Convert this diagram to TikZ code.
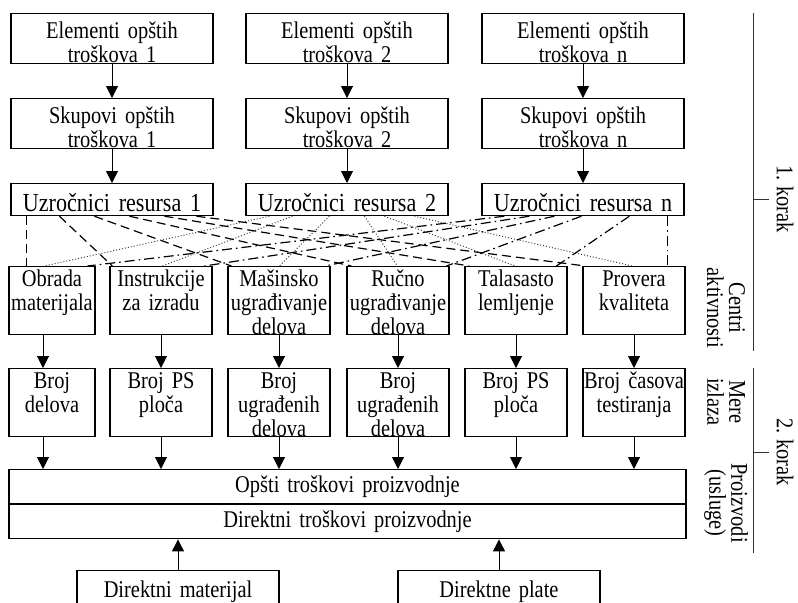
\documentclass[tikz,border=0pt]{standalone}
\usepackage{fontspec}
\setmainfont{Liberation Serif}[FakeStretch=0.85]
\usetikzlibrary{positioning,arrows.meta,calc}
\newcommand{\boxfont}[2]{\fontsize{#1}{#2}\selectfont\spaceskip=0.16em plus 0.02em\relax}

\begin{document}
\begin{tikzpicture}[
    x=0.5pt,y=-0.5pt,
    >={Triangle[length=6pt,width=6pt]},
    arr/.style={->,line width=0.5pt},
    box/.style={rectangle,draw,line width=0.6pt,inner xsep=0pt,inner ysep=0pt,
        align=center,anchor=north,font=\boxfont{12}{12}},
    elbox/.style={box,text width=101pt,text height=12.5pt,text depth=12.5pt},
    uzbox/.style={box,text width=101pt,text height=14pt,text depth=2pt,font=\boxfont{13}{13}},
    actbox/.style={box,text width=51pt,text height=10pt,text depth=24pt},
    sumbox/.style={box,text width=338.5pt,text height=11.5pt,text depth=5.5pt},
    inbox/.style={box,text width=101pt,text height=13.5pt,text depth=6.5pt},
    sidelbl/.style={align=center,rotate=-90,inner sep=0pt,font=\boxfont{12}{11}},
    drvone/.style={line width=0.6pt,dash pattern=on 4.5pt off 2.5pt},
    drvtwo/.style={line width=0.5pt,black!75,dash pattern=on 0.5pt off 1pt},
    drvn/.style={line width=0.6pt,dash pattern=on 5pt off 2pt on 0.8pt off 2pt},
    bracket/.style={line width=0.5pt,black!80},
]
\useasboundingbox (0,0) rectangle (798,602);

% === ELEMENTI / SKUPOVI / UZROCNICI ===
\node[elbox] (el1) at (112,13) {Elementi opštih\\troškova 1};
\node[elbox] (el2) at (347,13) {Elementi opštih\\troškova 2};
\node[elbox] (eln) at (583,13) {Elementi opštih\\troškova n};
\node[elbox] (sk1) at (112,98) {Skupovi opštih\\troškova 1};
\node[elbox] (sk2) at (347,98) {Skupovi opštih\\troškova 2};
\node[elbox] (skn) at (583,98) {Skupovi opštih\\troškova n};
\node[uzbox] (uz1) at (112,183) {Uzročnici resursa 1};
\node[uzbox] (uz2) at (347,183) {Uzročnici resursa 2};
\node[uzbox] (uzn) at (583,183) {Uzročnici resursa n};
\draw[arr] (el1) -- (sk1);
\draw[arr] (el2) -- (sk2);
\draw[arr] (eln) -- (skn);
\draw[arr] (sk1) -- (uz1);
\draw[arr] (sk2) -- (uz2);
\draw[arr] (skn) -- (uzn);

% === CENTRI AKTIVNOSTI ===
\node[actbox,text width=43pt] (obr) at (52,266) {Obrada\\materijala};
\node[actbox] (ins) at (161,266) {Instrukcije\\za izradu};
\node[actbox] (mas) at (279,266) {Mašinsko\\ugrađivanje\\delova};
\node[actbox] (ruc) at (398,266) {Ručno\\ugrađivanje\\delova};
\node[actbox] (tal) at (516,266) {Talasasto\\lemljenje};
\node[actbox] (pro) at (634,266) {Provera\\kvaliteta};

% Uzrocnici -> centri (one line style per resource driver)
\draw[drvone] ([xshift=8pt]uz1.south west) -- ([xshift=9pt]obr.north west);
\draw[drvone] ([xshift=24.5pt]uz1.south west) -- ([xshift=1.5pt]ins.north west);
\draw[drvone] ([xshift=42pt]uz1.south west) -- ([xshift=2pt]mas.north west);
\draw[drvone] ([xshift=59.5pt]uz1.south west) -- ([xshift=2.5pt]ruc.north west);
\draw[drvone] ([xshift=77pt]uz1.south west) -- ([xshift=2.5pt]tal.north west);
\draw[drvone] ([xshift=93pt]uz1.south west) -- ([xshift=1.5pt]pro.north west);

\draw[drvtwo] ([xshift=12pt]uz2.south west) -- ([xshift=18pt]obr.north west);
\draw[drvtwo] ([xshift=23.5pt]uz2.south west) -- ([xshift=26.5pt]ins.north west);
\draw[drvtwo] ([xshift=42pt]uz2.south west) -- ([xshift=26pt]mas.north west);
\draw[drvtwo] ([xshift=59.5pt]uz2.south west) -- ([xshift=25.5pt]ruc.north west);
\draw[drvtwo] ([xshift=69.5pt]uz2.south west) -- ([xshift=25.5pt]tal.north west);
\draw[drvtwo] ([xshift=84.5pt]uz2.south west) -- ([xshift=25pt]pro.north west);

\draw[drvn] ([xshift=11.5pt]uzn.south west) -- ([xshift=39.5pt]obr.north west);
\draw[drvn] ([xshift=24pt]uzn.south west) -- ([xshift=47.5pt]ins.north west);
\draw[drvn] ([xshift=36.5pt]uzn.south west) -- ([xshift=49pt]mas.north west);
\draw[drvn] ([xshift=50pt]uzn.south west) -- ([xshift=50pt]ruc.north west);
\draw[drvn] ([xshift=74pt]uzn.south west) -- ([xshift=46pt]tal.north west);
\draw[drvn] ([xshift=93pt]uzn.south west) -- ([xshift=42.5pt]pro.north west);

% === MERE IZLAZA ===
\node[actbox,text width=43pt] (brd) at (52,368) {Broj\\delova};
\node[actbox] (bps) at (161,368) {Broj PS\\ploča};
\node[actbox] (bug) at (279,368) {Broj\\ugrađenih\\delova};
\node[actbox] (bugr) at (398,368) {Broj\\ugrađenih\\delova};
\node[actbox] (bpl) at (516,368) {Broj PS\\ploča};
\node[actbox] (bcs) at (634,368) {Broj časova\\testiranja};
\draw[arr] ([xshift=-4.5pt]obr.south) -- ([xshift=-4.5pt]brd.north);
\draw[arr] (ins) -- (bps);
\draw[arr] (mas) -- (bug);
\draw[arr] (ruc) -- (bugr);
\draw[arr] (tal) -- (bpl);
\draw[arr] (pro) -- (bcs);

% === PROIZVODI ===
\node[sumbox] (opsti) at (347.5,469) {Opšti troškovi proizvodnje};
\node[sumbox,below=0pt of opsti] (direkt) {Direktni troškovi proizvodnje};
\draw[arr] ([xshift=-4.5pt]brd.south) -- ([xshift=-4.5pt]brd.south |- opsti.north);
\draw[arr] (bps.south) -- (bps.south |- opsti.north);
\draw[arr] (bug.south) -- (bug.south |- opsti.north);
\draw[arr] (bugr.south) -- (bugr.south |- opsti.north);
\draw[arr] (bpl.south) -- (bpl.south |- opsti.north);
\draw[arr] (bcs.south) -- (bcs.south |- opsti.north);

% Direct inputs
\node[inbox] (dmat) at (178,570) {Direktni materijal};
\node[inbox] (dpl) at (499,570) {Direktne plate};
\draw[arr] (dmat.north) -- (dmat.north |- direkt.south);
\draw[arr] (dpl.north) -- (dpl.north |- direkt.south);

% === KORACI (right side) ===
\coordinate (ka) at (753,13);
\coordinate (kb) at (753,351);
\coordinate (kc) at (753,368);
\coordinate (kd) at (753,553);
\coordinate (ta) at (753,199);
\coordinate (tb) at (753,452);
\draw[bracket] (ka) -- (kb);
\draw[bracket] (kc) -- (kd);
\draw[bracket] (ta) -- ++(16,0);
\draw[bracket] (tb) -- ++(16,0);
\node[sidelbl] (kor1) at (785,199) {1. korak};
\node[sidelbl] (kor2) at (785,452) {2. korak};
\node[sidelbl] (lcen) at (726,308) {Centri\\aktivnosti};
\node[sidelbl] (lmer) at (726,402) {Mere\\izlaza};
\node[sidelbl] (lpro) at (726,503) {Proizvodi\\(usluge)};

\end{tikzpicture}
\end{document}
